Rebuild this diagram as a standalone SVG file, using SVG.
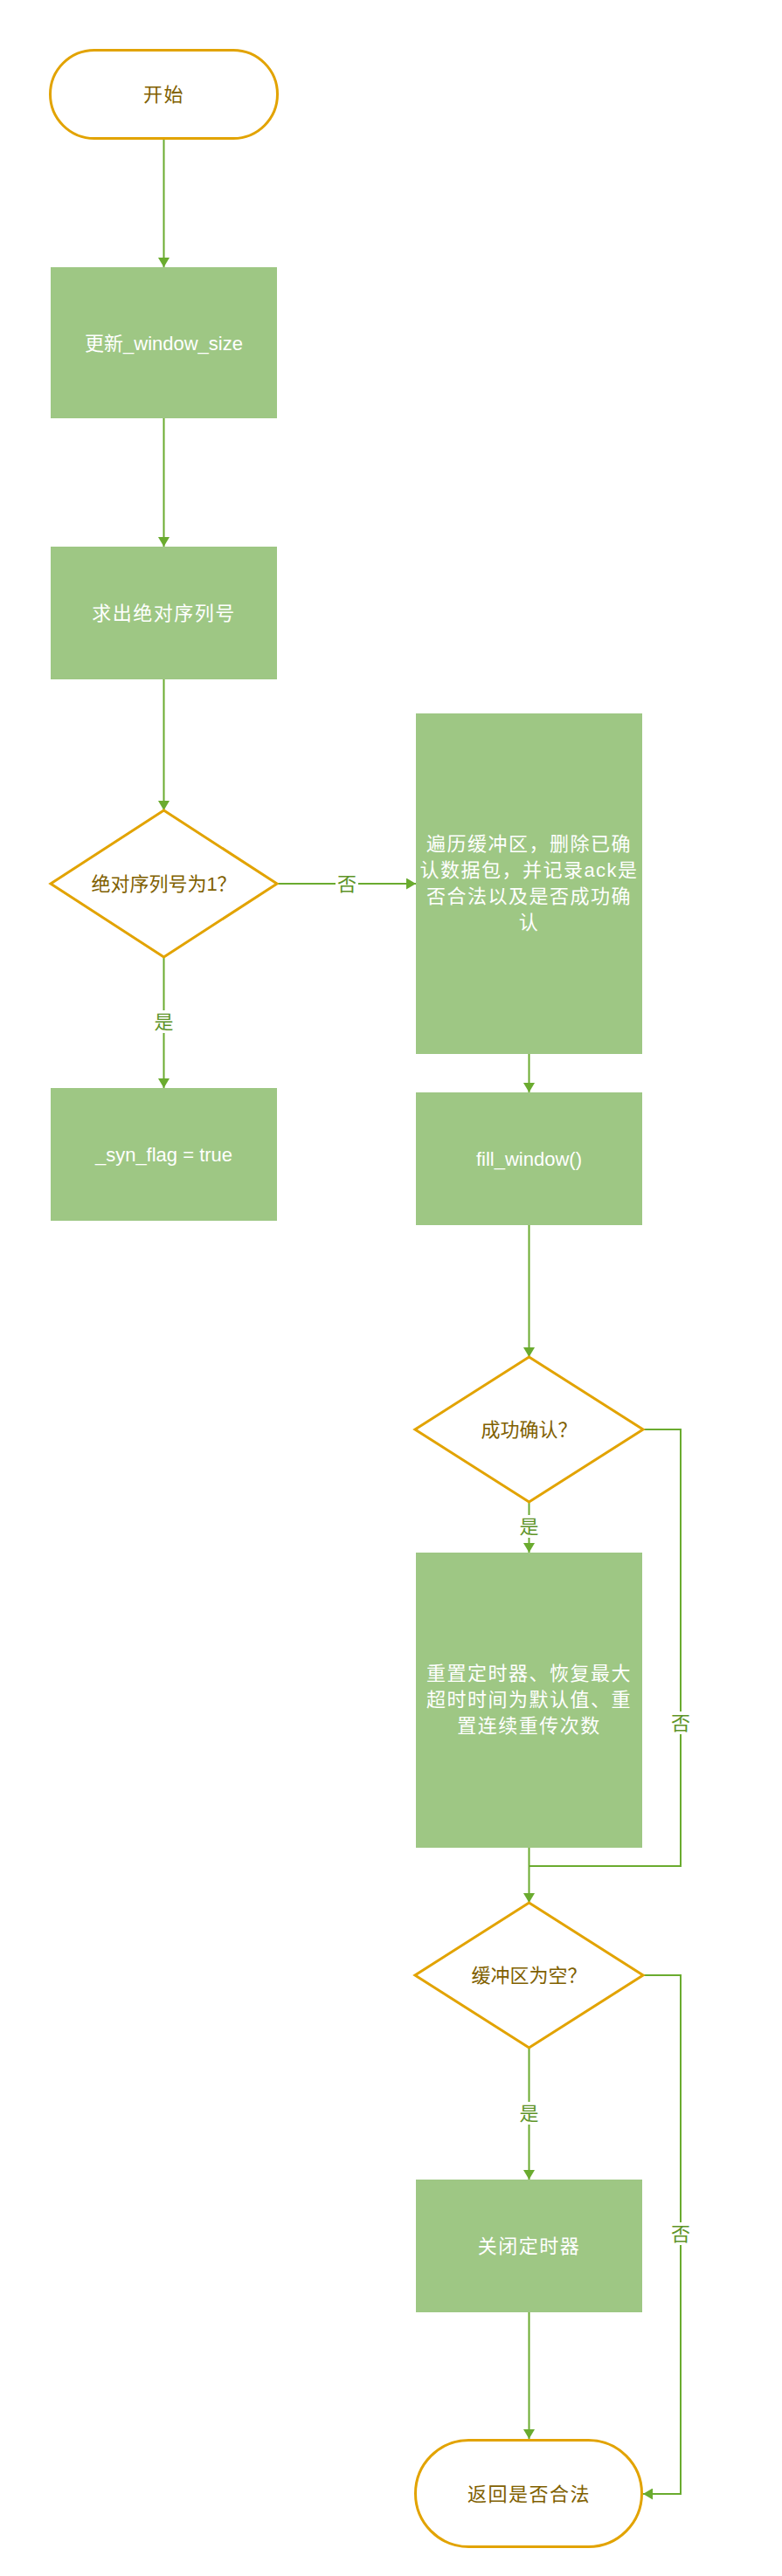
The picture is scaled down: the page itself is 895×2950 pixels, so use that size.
<svg xmlns="http://www.w3.org/2000/svg" width="895" height="2950" viewBox="0 0 895 2950">
<style>
.term{fill:#ffffff;stroke:#e2a300;stroke-width:3}
.dec{fill:#ffffff;stroke:#e2a300;stroke-width:3}
.proc{fill:#9ec784;stroke:none}
.t{font-family:"Liberation Sans","Noto Sans CJK SC",sans-serif;font-size:22px;text-anchor:middle;dominant-baseline:central}
.tw{fill:#ffffff}
.td{fill:#7f6000}
.cjk{letter-spacing:1.5px}
.edge{fill:none;stroke:#6aab2f;stroke-width:2}
.lbl{font-family:"Liberation Sans","Noto Sans CJK SC",sans-serif;font-size:22px;text-anchor:middle;dominant-baseline:central;fill:#5e9428}
.lblbg{fill:#ffffff}
</style>
<defs>
<marker id="arr" viewBox="0 0 11 13" refX="11" refY="6.5" markerWidth="11" markerHeight="13" markerUnits="userSpaceOnUse" orient="auto">
<path d="M0,0 L11,6.5 L0,13 z" fill="#6aab2f"/>
</marker>
</defs>
<rect width="895" height="2950" fill="#ffffff"/>

<g id="connectors">
<path class="edge" d="M187.5,160 V306" marker-end="url(#arr)"/>
<path class="edge" d="M187.5,479 V626" marker-end="url(#arr)"/>
<path class="edge" d="M187.5,778 V928" marker-end="url(#arr)"/>
<path class="edge" d="M187.5,1096 V1246" marker-end="url(#arr)"/>
<path class="edge" d="M317,1012 H476" marker-end="url(#arr)"/>
<path class="edge" d="M605.5,1207 V1251" marker-end="url(#arr)"/>
<path class="edge" d="M605.5,1403 V1554" marker-end="url(#arr)"/>
<path class="edge" d="M605.5,1720 V1778" marker-end="url(#arr)"/>
<path class="edge" d="M736,1637 H779 V2137 H605.5"/>
<path class="edge" d="M605.5,2116 V2179" marker-end="url(#arr)"/>
<path class="edge" d="M605.5,2345 V2496" marker-end="url(#arr)"/>
<path class="edge" d="M736,2262 H779 V2856 H736" marker-end="url(#arr)"/>
<path class="edge" d="M605.5,2648 V2793" marker-end="url(#arr)"/>
<rect class="lblbg" x="175" y="1157" width="25" height="26"/>
<text class="lbl" x="187.5" y="1170">是</text>
<rect class="lblbg" x="384" y="1000" width="26" height="24"/>
<text class="lbl" x="397" y="1012">否</text>
<rect class="lblbg" x="593" y="1735" width="25" height="26"/>
<text class="lbl" x="605.5" y="1748">是</text>
<rect class="lblbg" x="767" y="1960" width="25" height="26"/>
<text class="lbl" x="779" y="1973">否</text>
<rect class="lblbg" x="593" y="2407" width="25" height="26"/>
<text class="lbl" x="605.5" y="2420">是</text>
<rect class="lblbg" x="767" y="2545" width="25" height="26"/>
<text class="lbl" x="779" y="2558">否</text>
</g>

<g id="start">
<rect class="term" x="57.5" y="57.5" width="260" height="101" rx="50.5"/>
<text class="t td cjk" x="187.5" y="108">开始</text>
</g>
<g id="update_window">
<rect class="proc" x="58" y="306" width="259" height="173"/>
<text class="t tw" x="187.5" y="393">更新_window_size</text>
</g>
<g id="abs_seqno">
<rect class="proc" x="58" y="626" width="259" height="152"/>
<text class="t tw cjk" x="187.5" y="702">求出绝对序列号</text>
</g>
<g id="is_seqno_1">
<polygon class="dec" points="187.5,928 317,1012 187.5,1096 58,1012"/>
<text class="t td" x="187.5" y="1012">绝对序列号为1？</text>
</g>
<g id="syn_flag">
<rect class="proc" x="58" y="1246" width="259" height="152"/>
<text class="t tw" x="187.5" y="1322">_syn_flag = true</text>
</g>
<g id="traverse_buffer">
<rect class="proc" x="476" y="817" width="259" height="390"/>
<text class="t tw cjk" x="605.5" y="966">遍历缓冲区，删除已确</text>
<text class="t tw cjk" x="605.5" y="996">认数据包，并记录ack是</text>
<text class="t tw cjk" x="605.5" y="1026">否合法以及是否成功确</text>
<text class="t tw cjk" x="605.5" y="1056">认</text>
</g>
<g id="fill_window">
<rect class="proc" x="476" y="1251" width="259" height="152"/>
<text class="t tw" x="605.5" y="1327">fill_window()</text>
</g>
<g id="ack_success">
<polygon class="dec" points="605.5,1554 736,1637 605.5,1720 475,1637"/>
<text class="t td" x="605.5" y="1637">成功确认？</text>
</g>
<g id="reset_timer">
<rect class="proc" x="476" y="1778" width="259" height="338"/>
<text class="t tw cjk" x="605.5" y="1916">重置定时器、恢复最大</text>
<text class="t tw cjk" x="605.5" y="1946">超时时间为默认值、重</text>
<text class="t tw cjk" x="605.5" y="1976">置连续重传次数</text>
</g>
<g id="buffer_empty">
<polygon class="dec" points="605.5,2179 736,2262 605.5,2345 475,2262"/>
<text class="t td" x="605.5" y="2262">缓冲区为空？</text>
</g>
<g id="stop_timer">
<rect class="proc" x="476" y="2496" width="259" height="152"/>
<text class="t tw cjk" x="605.5" y="2572">关闭定时器</text>
</g>
<g id="end">
<rect class="term" x="475.5" y="2794.5" width="259" height="122" rx="61"/>
<text class="t td cjk" x="605.5" y="2856">返回是否合法</text>
</g>
</svg>
